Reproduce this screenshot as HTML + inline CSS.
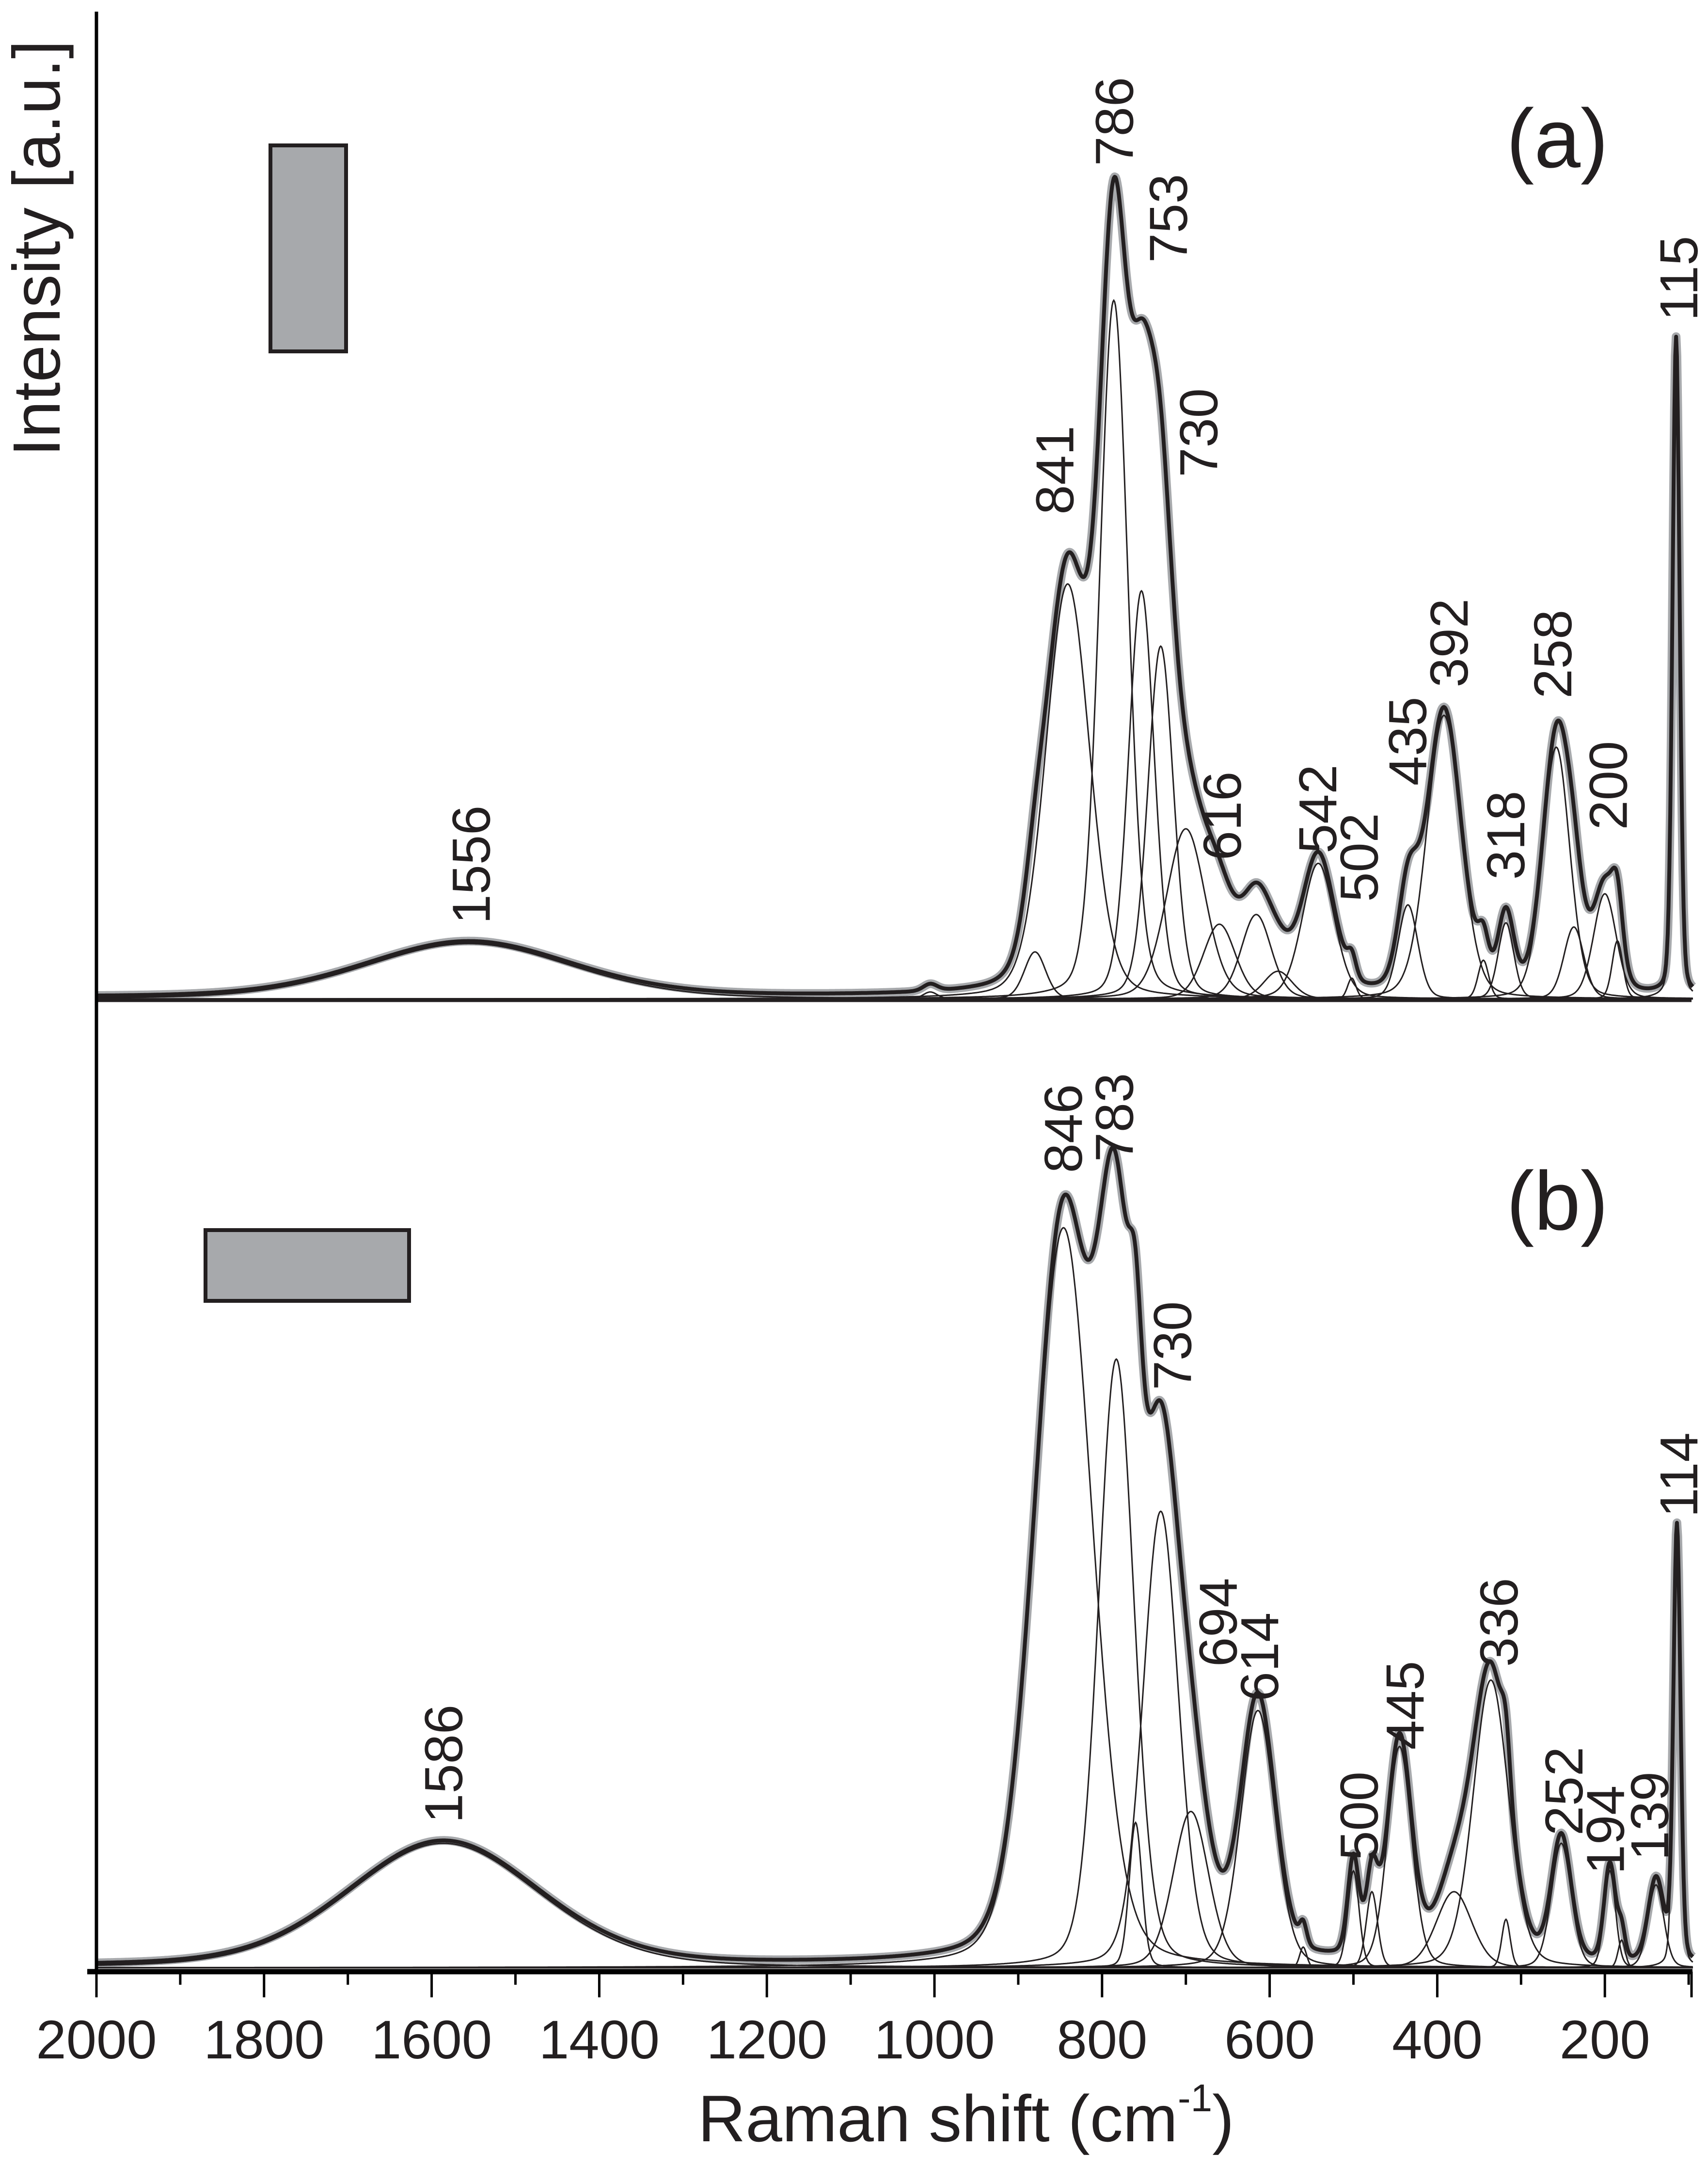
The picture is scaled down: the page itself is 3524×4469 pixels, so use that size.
<!DOCTYPE html>
<html><head><meta charset="utf-8">
<style>
html,body{margin:0;padding:0;background:#fff;}
svg{display:block;}
text{font-family:"Liberation Sans",Arial,sans-serif;fill:#231f20;}
</style></head>
<body>
<svg id="chart" width="3524" height="4469" viewBox="0 0 3524 4469" xmlns="http://www.w3.org/2000/svg">
  <rect x="0" y="0" width="3524" height="4469" fill="#fff"/>
  <g id="plots"></g>
  <g id="axes"></g>
  <text transform="translate(123,942) rotate(-90)" font-size="138">Intensity [a.u.]</text>
  <text x="1440" y="4418" font-size="136">Raman shift (cm<tspan font-size="80" dy="-62">-1</tspan><tspan dy="62">)</tspan></text>
  <rect x="558" y="300" width="156" height="425" fill="#a7a9ac" stroke="#231f20" stroke-width="8"/>
  <rect x="424" y="2538" width="420" height="146" fill="#a7a9ac" stroke="#231f20" stroke-width="8"/>
  <text x="3108" y="345" font-size="172">(a)</text>
  <text x="3108" y="2537" font-size="172">(b)</text>
</svg>
<script>
// ---- data (amplitudes in reference units) ----
const centersA = [1556, 1005, 880, 841, 786, 753, 730, 700, 660, 616, 590, 542, 502, 435, 392, 345, 318, 258, 237, 200, 185, 115];
const ampsA    = [40, 5, 34, 300, 505, 295, 255, 123, 54, 61, 20, 98, 15, 68, 205, 28, 55, 182, 52, 76, 42, 475];
const fwhmA    = [290, 20, 30, 62, 40, 36, 36, 55, 45, 42, 40, 45, 12, 28, 48, 15, 22, 38, 28, 32, 15, 10];
const centersB = [1586, 846, 783, 760, 730, 694, 614, 560, 500, 478, 445, 380, 336, 318, 252, 194, 180, 139, 114];
const ampsB    = [90, 535, 440, 105, 330, 113, 186, 15, 70, 55, 160, 55, 208, 35, 90, 70, 20, 60, 315];
const fwhmB    = [270, 82, 50, 18, 50, 50, 48, 10, 16, 16, 34, 50, 50, 12, 28, 16, 10, 22, 10];
const tickValues = [2000, 1800, 1600, 1400, 1200, 1000, 800, 600, 400, 200];
const tickLabels = ["2000", "1800", "1600", "1400", "1200", "1000", "800", "600", "400", "200"];
const minorValues = [1900, 1700, 1500, 1300, 1100, 900, 700, 500, 300, 100];
const labelsA = ["1556","786","753","841","730","616","542","502","435","392","318","258","200","115"];
const labelsB = ["1586","846","783","730","694","614","500","445","336","252","194","139","114"];

const K = 2.854;
const X0 = 199, XPER = 1.729;
function xs(v){ return X0 + (2000 - v) * XPER; }
const baseA = 2061, baseB = 4060;
function ys(base, a){ return base - a * K; }
function pv(x, c, a, w){
  const g = Math.exp(-4*Math.LN2*(x-c)*(x-c)/(w*w));
  const l = 1/(1+4*(x-c)*(x-c)/(w*w));
  return a*(0.8*g + 0.2*l);
}
const NS = "http://www.w3.org/2000/svg";
const plots = document.getElementById('plots');
const axes = document.getElementById('axes');
function mk(tag, attrs, parent){
  const e = document.createElementNS(NS, tag);
  for (const k in attrs) e.setAttribute(k, attrs[k]);
  parent.appendChild(e); return e;
}
function drawPanel(centers, amps, fwhm, base, name, xmin){
  const g = mk('g', {}, plots);
  
  
  const xsArr = [];
  for (let v = 2000; v >= xmin; v -= 1) xsArr.push(v);
  const sum = xsArr.map(v => centers.reduce((s, c, i) => s + pv(v, c, amps[i], fwhm[i]), 0) + 1.5);
  const sumD = xsArr.map((v, i) => (i ? 'L' : 'M') + xs(v).toFixed(1) + ',' + ys(base, sum[i]).toFixed(1)).join('');
  const data = mk('path', {d: sumD, fill: 'none', stroke: '#a7a9ac', 'stroke-width': 18, 'stroke-linejoin': 'round'}, g);
  
  
  centers.forEach((c, i) => {
    const d = xsArr.map((v, j) => (j ? 'L' : 'M') + xs(v).toFixed(1) + ',' + ys(base, pv(v, c, amps[i], fwhm[i])).toFixed(1)).join('');
    const p = mk('path', {d: d, fill: 'none', stroke: '#231f20', 'stroke-width': 3}, g);
    
    
  });
  const s = mk('path', {d: sumD, fill: 'none', stroke: '#231f20', 'stroke-width': 8, 'stroke-linejoin': 'round'}, g);
  
  
}
drawPanel(centersA, ampsA, fwhmA, baseA, 'a', 95);
drawPanel(centersB, ampsB, fwhmB, baseB, 'b', 95);

const bl = mk('line', {x1: 199, x2: 3490, y1: baseA + 4, y2: baseA + 4, stroke: '#231f20', 'stroke-width': 5}, axes);


const ya = mk('line', {x1: 199, x2: 199, y1: 24, y2: 4070, stroke: '#000', 'stroke-width': 7}, axes);


const xa = mk('line', {x1: 180, x2: 3492, y1: 4068, y2: 4068, stroke: '#000', 'stroke-width': 11}, axes);


tickValues.forEach((v, i) => {
  const t = mk('line', {x1: xs(v), x2: xs(v), y1: 4068, y2: 4121, stroke: '#000', 'stroke-width': 5}, axes);
  
  
  const lb = mk('text', {x: xs(v), y: 4247, 'text-anchor': 'middle', 'font-size': 112}, axes);
  lb.textContent = tickLabels[i];
  
  
});
minorValues.forEach(v => {
  const t = mk('line', {x1: xs(v), x2: xs(v), y1: 4068, y2: 4095, stroke: '#000', 'stroke-width': 5}, axes);
  
  
});
const rt = mk('line', {x1: 3490, x2: 3490, y1: 4068, y2: 4121, stroke: '#000', 'stroke-width': 5}, axes);



const posA = [[340,668],[805,120],[844,190],[762,372],[866,345],[883,622],[952,617],[982,652],[1017,568],[1047,497],[1088,636],[1122,505],[1162,600],[1213,232]];
const posB = [[320,1318],[768,848],[805,840],[847,1005],[880,1205],[910,1230],[982,1345],[1015,1265],[1083,1205],[1130,1327],[1160,1355],[1192,1345],[1213,1097]];
function annot(labels, pos, name){
  labels.forEach((s, i) => {
    const cx = pos[i][0] * K, by = pos[i][1] * K;
    const t = mk('text', {transform: 'translate(' + (cx + 40).toFixed(1) + ',' + by.toFixed(1) + ') rotate(-90)', 'font-size': 110}, plots);
    t.textContent = s;
    
    
  });
}
annot(labelsA, posA, 'a');
annot(labelsB, posB, 'b');
</script>
</body></html>
